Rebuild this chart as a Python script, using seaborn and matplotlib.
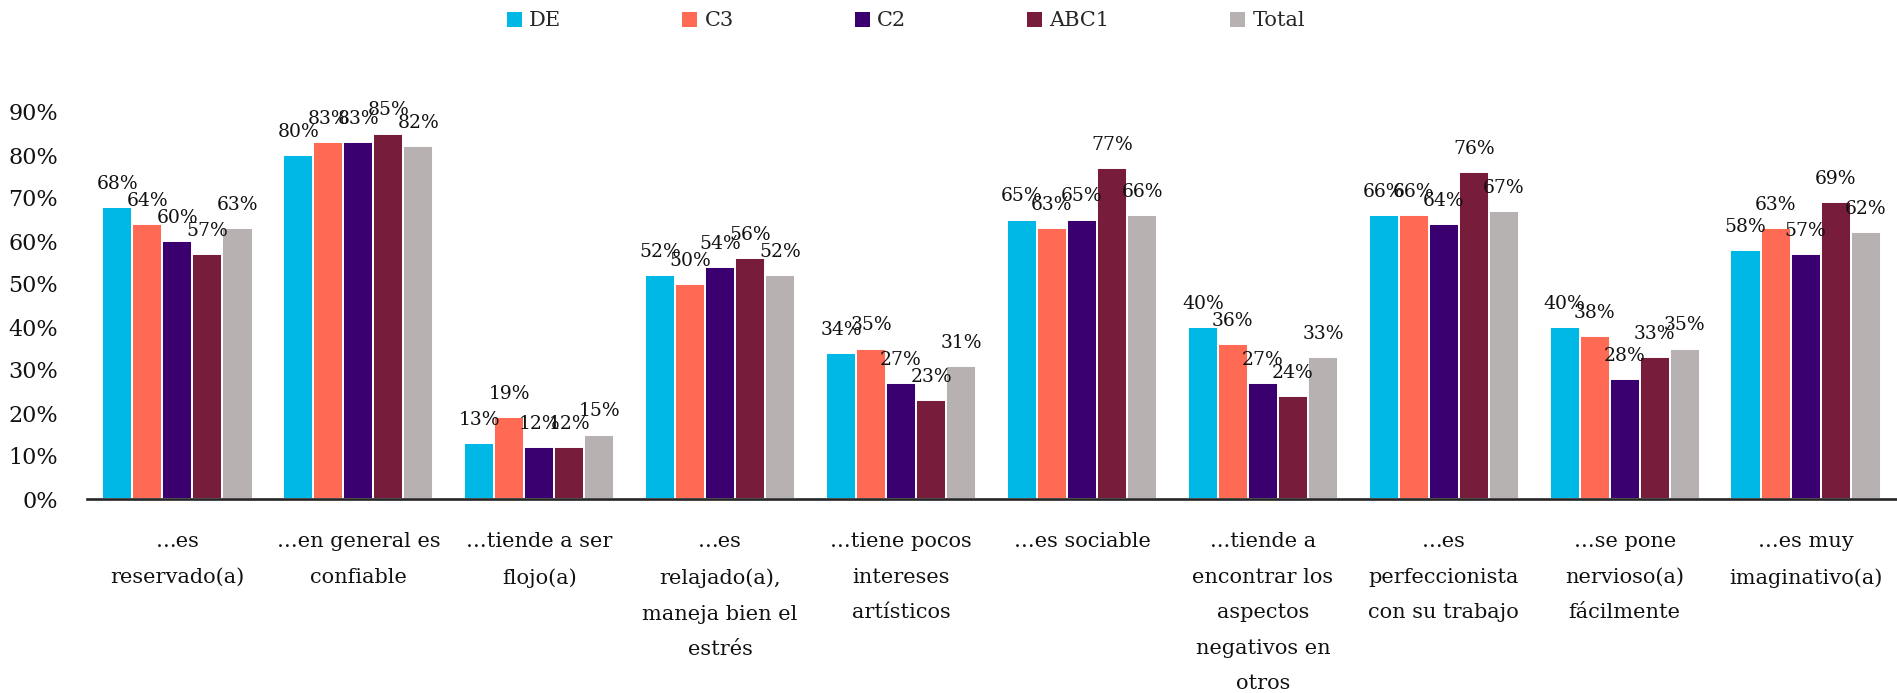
import matplotlib
matplotlib.use("Agg")
import matplotlib.pyplot as plt
from matplotlib.patches import Patch
import pandas as pd
import seaborn as sns

# Rasgos de personalidad (eje X)
categorias = [
    "…es\nreservado(a)",
    "…en general es\nconfiable",
    "…tiende a ser\nflojo(a)",
    "…es\nrelajado(a),\nmaneja bien el\nestrés",
    "…tiene pocos\nintereses\nartísticos",
    "…es sociable",
    "...tiende a\nencontrar los\naspectos\nnegativos en\notros",
    "…es\nperfeccionista\ncon su trabajo",
    "…se pone\nnervioso(a)\nfácilmente",
    "…es muy\nimaginativo(a)",
]

# Porcentaje de acuerdo por grupo socioeconómico
grupos = ["DE", "C3", "C2", "ABC1", "Total"]
de = [0.68, 0.80, 0.13, 0.52, 0.34, 0.65, 0.40, 0.66, 0.40, 0.58]
c3 = [0.64, 0.83, 0.19, 0.50, 0.35, 0.63, 0.36, 0.66, 0.38, 0.63]
c2 = [0.60, 0.83, 0.12, 0.54, 0.27, 0.65, 0.27, 0.64, 0.28, 0.57]
abc1 = [0.57, 0.85, 0.12, 0.56, 0.23, 0.77, 0.24, 0.76, 0.33, 0.69]
total = [0.63, 0.82, 0.15, 0.52, 0.31, 0.66, 0.33, 0.67, 0.35, 0.62]

colores = ["#00B8E5", "#FF6A55", "#3A006F", "#771C3B", "#B7B1B1"]
eje_y = [0.0, 0.1, 0.2, 0.3, 0.4, 0.5, 0.6, 0.7, 0.8, 0.9]

series = [de, c3, c2, abc1, total]
df = pd.DataFrame(
    [(cat, g, v) for g, vals in zip(grupos, series) for cat, v in zip(categorias, vals)],
    columns=["rasgo", "grupo", "valor"],
)

sns.set_theme(style="white")
plt.rcParams["font.family"] = ["DejaVu Serif"]

W, H, DPI = 1897, 693, 100
fig = plt.figure(figsize=(W / DPI, H / DPI), dpi=DPI)
ax = fig.add_axes([87 / W, 1 - 499 / H, (W - 88) / W, (499 - 112) / H])

sns.barplot(
    data=df, x="rasgo", y="valor", hue="grupo",
    order=categorias, hue_order=grupos, palette=colores, saturation=1,
    width=0.83, edgecolor="white", linewidth=1.4,
    legend=False, ax=ax, errorbar=None,
)

ax.set_ylim(0, 0.9)
ax.set_xlim(-0.5, len(categorias) - 0.5)
ax.set_yticks(eje_y)
ax.set_yticklabels([f"{v:.0%}" for v in eje_y], fontsize=16, color="#111111")
ax.set_xlabel("")
ax.set_ylabel("")
ax.tick_params(axis="y", length=0, pad=21)
ax.tick_params(axis="x", length=0, pad=24, labelsize=15)
for t in ax.get_xticklabels():
    t.set_linespacing(2.1)
    t.set_color("#111111")
    t.set_verticalalignment("top")

for side in ["left", "right", "top"]:
    ax.spines[side].set_visible(False)
ax.spines["bottom"].set_color("#262626")
ax.spines["bottom"].set_linewidth(1.9)

# Etiquetas de valor sobre cada barra
for cont, vals in zip(ax.containers, series):
    for bar, v in zip(cont, vals):
        ax.annotate(
            f"{v:.0%}",
            xy=(bar.get_x() + bar.get_width() / 2, v),
            xytext=(0, 13), textcoords="offset points",
            ha="center", va="baseline", fontsize=13.5, color="#111111",
            annotation_clip=False,
        )

handles = [Patch(facecolor=c, edgecolor="none", label=g) for g, c in zip(grupos, colores)]
fig.legend(
    handles=handles, loc="center", bbox_to_anchor=(906 / W, 1 - 21 / H),
    ncol=5, frameon=False, fontsize=15,
    handlelength=0.72, handleheight=0.72, handletextpad=0.35,
    columnspacing=5.8, borderpad=0,
)

fig.savefig("out.png", dpi=DPI)
